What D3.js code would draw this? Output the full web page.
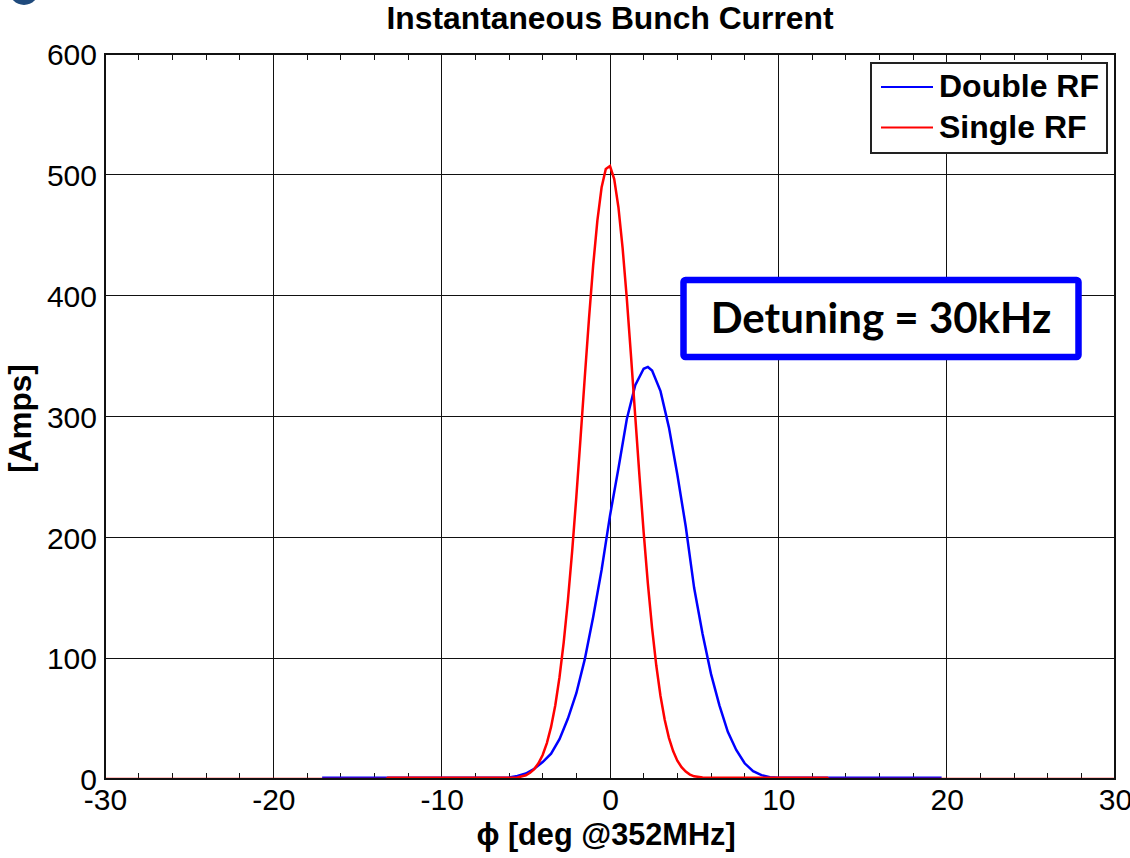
<!DOCTYPE html>
<html>
<head>
<meta charset="utf-8">
<script src="https://cdnjs.cloudflare.com/ajax/libs/d3/7.8.5/d3.min.js"></script>
<style>
	body { margin: 0; background: #fff; }
	svg { display: block; }
	text { font-family: "Liberation Sans", Arial, sans-serif; fill: #000; }
</style>
</head>
<body>
<div id="container"></div>
<script>
//chart texts
var chartTitle = "Instantaneous Bunch Current";
var xLabel = "\u03d5 [deg @352MHz]";
var yLabel = "[Amps]";
var noteText = "Detuning = 30kHz";
var seriesNames = ["Double RF", "Single RF"];

//tick values
var xTicks = [-30, -20, -10, 0, 10, 20, 30];
var xMinorTicks = d3.range(-28, 30, 2);
var yTicks = [0, 100, 200, 300, 400, 500, 600];

//double RF series
var doublePhi = [-17.1, -6, -5.5, -5, -4.5, -4, -3.5, -3, -2.5, -2, -1.5, -1, -0.5, 0, 0.5, 1, 1.5, 2, 2.25, 2.5, 3, 3.5, 4, 4.5, 5, 5.5, 6, 6.5, 7, 7.5, 8, 8.5, 9, 9.5, 10, 19.7];
var doubleAmps = [1, 1.2, 2.5, 4.5, 8.5, 14, 21, 33, 50, 71, 99, 134, 173, 218, 257, 298, 326, 339.5, 341, 338, 321, 291, 252, 209, 158, 120, 87, 61, 39, 24, 13, 6.5, 3.2, 1.5, 1, 1];

//single RF series
var singlePhi = [-30, -13.3, -13.2, -6, -5.5, -5, -4.75, -4.5, -4.25, -4, -3.75, -3.5, -3.25, -3, -2.75, -2.5, -2.25, -2, -1.75, -1.5, -1.25, -1, -0.75, -0.5, -0.25, 0, 0.25, 0.5, 0.75, 1, 1.25, 1.5, 1.75, 2, 2.25, 2.5, 2.75, 3, 3.25, 3.5, 3.75, 4, 4.25, 4.5, 4.75, 5, 5.5, 6, 12.9, 13, 30];
var singleAmps = [0, 0, 1, 1, 1.2, 3.1, 5.1, 8.2, 13, 19.9, 29.7, 43.1, 61, 84.2, 113, 147.8, 188.2, 233.5, 282.2, 332.1, 380.6, 425, 462.1, 489.5, 504.9, 507.3, 496.5, 473.2, 439.3, 397.3, 349.8, 300.1, 250.8, 204.1, 161.7, 124.9, 93.9, 68.7, 49, 34.1, 23.1, 15.2, 9.8, 6.1, 3.7, 2.2, 1.2, 1, 1, 0, 0];

var seriesColors = ["#0000ff", "#ff0000"];

// size of the page and the plot box
var W = 1130, H = 858;
var margin = {top: 54, right: 15, bottom: 79, left: 105},
	width = W - margin.left - margin.right,
	height = H - margin.top - margin.bottom;

var svg = d3.select("#container").append("svg")
	.attr("width", W)
	.attr("height", H);

//the dark blue dot in the corner
svg.append("circle")
	.attr("cx", 24).attr("cy", -10).attr("r", 15)
	.style("fill", "#1f4a7c");

var g = svg.append("g")
	.attr("transform", "translate(" + margin.left + "," + margin.top + ")");

var x = d3.scaleLinear().domain([-30, 30]).range([0, width]);
var y = d3.scaleLinear().domain([0, 600]).range([height, 0]);

// grid
g.append("g").selectAll("line")
	.data(xTicks).enter().append("line")
		.attr("x1", function(d) { return x(d); })
		.attr("x2", function(d) { return x(d); })
		.attr("y1", 0).attr("y2", height)
		.style("stroke", "#111").style("stroke-width", 1)
		.attr("shape-rendering", "crispEdges");

g.append("g").selectAll("line")
	.data(yTicks).enter().append("line")
		.attr("x1", 0).attr("x2", width)
		.attr("y1", function(d) { return y(d); })
		.attr("y2", function(d) { return y(d); })
		.style("stroke", "#111").style("stroke-width", 1)
		.attr("shape-rendering", "crispEdges");

// minor ticks top and bottom (inward)
var minor = g.append("g");
minor.selectAll(".mb").data(xMinorTicks).enter().append("line")
	.attr("class", "mb")
	.attr("x1", function(d) { return x(d); }).attr("x2", function(d) { return x(d); })
	.attr("y1", height).attr("y2", height - 6)
	.style("stroke", "#111").attr("shape-rendering", "crispEdges");
minor.selectAll(".mt").data(xMinorTicks).enter().append("line")
	.attr("class", "mt")
	.attr("x1", function(d) { return x(d); }).attr("x2", function(d) { return x(d); })
	.attr("y1", 0).attr("y2", 6)
	.style("stroke", "#111").attr("shape-rendering", "crispEdges");

// axes labels via d3 axes (no lines, only text), plain hyphen for negatives
var plain = function(d) { return String(d); };
var xAxis = d3.axisBottom(x).tickValues(xTicks).tickSize(0).tickPadding(10).tickFormat(plain);
var yAxis = d3.axisLeft(y).tickValues(yTicks).tickSize(0).tickPadding(8).tickFormat(plain);

var gx = g.append("g")
	.attr("transform", "translate(0," + height + ")")
	.call(xAxis);
gx.select(".domain").remove();
gx.selectAll("text")
	.style("font-size", "30px")
	.style("font-family", "'Liberation Sans', Arial, sans-serif")
	.attr("dy", "0.71em")
	.attr("y", 10);

var gy = g.append("g").call(yAxis);
gy.select(".domain").remove();
gy.selectAll("text")
	.style("font-size", "30px")
	.style("font-family", "'Liberation Sans', Arial, sans-serif")
	.attr("dy", "0.36em");

// clip the curves to the box
g.append("clipPath").attr("id", "clip")
	.append("rect").attr("width", width).attr("height", height + 2).attr("y", -1);

var line = d3.line()
	.x(function(d) { return x(d[0]); })
	.y(function(d) { return y(d[1]); });

var doubleData = d3.zip(doublePhi, doubleAmps);
var singleData = d3.zip(singlePhi, singleAmps);

g.append("path")
	.datum(doubleData)
	.attr("clip-path", "url(#clip)")
	.attr("d", line)
	.style("fill", "none")
	.style("stroke", seriesColors[0])
	.style("stroke-width", 2.5);

g.append("path")
	.datum(singleData)
	.attr("clip-path", "url(#clip)")
	.attr("d", line)
	.style("fill", "none")
	.style("stroke", seriesColors[1])
	.style("stroke-width", 2.5);

// plot frame
g.append("rect")
	.attr("width", width).attr("height", height)
	.style("fill", "none").style("stroke", "#111").style("stroke-width", 1.2)
	.attr("shape-rendering", "crispEdges");

// legend
var lg = svg.append("g").attr("transform", "translate(871,63)");
lg.append("rect")
	.attr("width", 236).attr("height", 90)
	.style("fill", "#fff").style("stroke", "#222").style("stroke-width", 1.2)
	.attr("shape-rendering", "crispEdges");
var items = lg.selectAll(".legend")
	.data(seriesNames).enter()
	.append("g")
		.attr("class", "legend")
		.attr("transform", function(d, i) { return "translate(0," + (24 + i * 40.5) + ")"; });
items.append("line")
	.attr("x1", 10).attr("x2", 62)
	.style("stroke", function(d, i) { return seriesColors[i]; })
	.style("stroke-width", 2);
items.append("text")
	.attr("x", 68)
	.attr("y", 10)
	.style("font-size", "32px")
	.style("font-weight", "bold")
	.text(function(d) { return d; });

// title and axis titles
svg.append("text")
	.attr("x", margin.left + width / 2)
	.attr("y", 29)
	.style("text-anchor", "middle")
	.style("font-size", "31.8px")
	.style("font-weight", "bold")
	.text(chartTitle);

svg.append("text")
	.attr("x", 606)
	.attr("y", 845)
	.style("text-anchor", "middle")
	.style("font-size", "30.7px")
	.style("font-weight", "bold")
	.text(xLabel);

svg.append("text")
	.attr("transform", "translate(31," + (margin.top + height / 2 + 2) + ") rotate(-90)")
	.style("text-anchor", "middle")
	.style("font-size", "31.5px")
	.style("font-weight", "bold")
	.text(yLabel);

// detuning note box
var note = svg.append("g");
note.append("rect")
	.attr("x", 683.5).attr("y", 280)
	.attr("width", 395).attr("height", 77)
	.attr("rx", 2)
	.style("fill", "#fff")
	.style("stroke", "#0000ff")
	.style("stroke-width", 6.5);
note.append("text")
	.attr("x", 881)
	.attr("y", 333)
	.style("text-anchor", "middle")
	.style("font-family", "Lato, 'Open Sans', sans-serif")
	.style("font-size", "42px")
	.style("font-weight", "bold")
	.text(noteText);
</script>
</body>
</html>
